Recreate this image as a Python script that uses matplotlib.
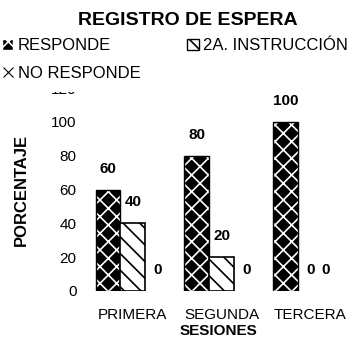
import numpy as np
import matplotlib
matplotlib.use("Agg")
import matplotlib.pyplot as plt
from matplotlib.patches import Patch
from matplotlib.lines import Line2D

plt.rcParams['font.family'] = ['Liberation Sans', 'DejaVu Sans']
plt.rcParams['hatch.linewidth'] = 1.2

# Data
sesiones = ['PRIMERA', 'SEGUNDA', 'TERCERA']
responde = [60, 80, 100]
instruccion = [40, 20, 0]
no_responde = [0, 0, 0]

W, H = 351, 338
fig = plt.figure(figsize=(W / 100, H / 100), dpi=100)
ax = fig.add_axes([85 / W, 1 - 291 / H, (351 - 85) / W, (291 - 88) / H])

x = np.arange(len(sesiones))
w = 0.28

# black bars with white pattern
ax.bar(x - w, responde, w, color='black', edgecolor='white', hatch='xx', linewidth=0)
ax.bar(x - w, responde, w, fill=False, edgecolor='black', linewidth=1)
# white bars with black pattern (no outline when the value is 0)
edge = ['black' if v > 0 else 'none' for v in instruccion]
ax.bar(x, instruccion, w, color='white', edgecolor=edge, hatch='\\\\', linewidth=1.2)
ax.bar(x + w, no_responde, w, color='white', edgecolor='none')

# value labels
for xs, vals in [(x - w, responde), (x, instruccion), (x + w, no_responde)]:
    for xi, v in zip(xs, vals):
        dx = -6.5 if xi > 2.2 else 0  # last label pulled in from the edge
        ax.annotate(str(v), (xi, v), xytext=(dx, 10), textcoords='offset points',
                    ha='center', va='bottom', fontsize=11, fontweight='bold')

ax.set_xlim(-0.54, 2.46)
ax.set_ylim(0, 120)
ax.set_yticks(range(0, 121, 20))
ax.set_xticks(x)
ax.set_xticklabels(sesiones)
ax.tick_params(axis='both', length=0, labelsize=11)
ax.tick_params(axis='x', pad=12)
ax.tick_params(axis='y', pad=6)
for s in ax.spines.values():
    s.set_visible(False)

ax.set_ylabel('PORCENTAJE', fontsize=12, fontweight='bold', labelpad=16)
ax.set_xlabel('SESIONES', fontsize=11, fontweight='bold', labelpad=2)

fig.suptitle('REGISTRO DE ESPERA', x=0.535, y=1 - 12 / H, fontsize=14,
             fontweight='bold', va='top')

handles = [
    Patch(facecolor='black', edgecolor='white', hatch='xx', label='RESPONDE'),
    Line2D([], [], marker='x', color='black', linestyle='none', markersize=7,
           markeredgewidth=0.8, label='NO RESPONDE'),
    Patch(facecolor='white', edgecolor='black', hatch='\\\\', label='2A. INSTRUCCIÓN'),
]
fig.legend(handles=handles, loc='upper left', bbox_to_anchor=(-9 / W, 1 - 27.5 / H),
           ncol=2, frameon=True, facecolor='white', edgecolor='none', framealpha=1,
           fontsize=12, handlelength=0.7, handleheight=0.7, handletextpad=0.25,
           columnspacing=2.8, labelspacing=0.75, borderpad=0.65, borderaxespad=0)

fig.savefig('out.png', dpi=100)
